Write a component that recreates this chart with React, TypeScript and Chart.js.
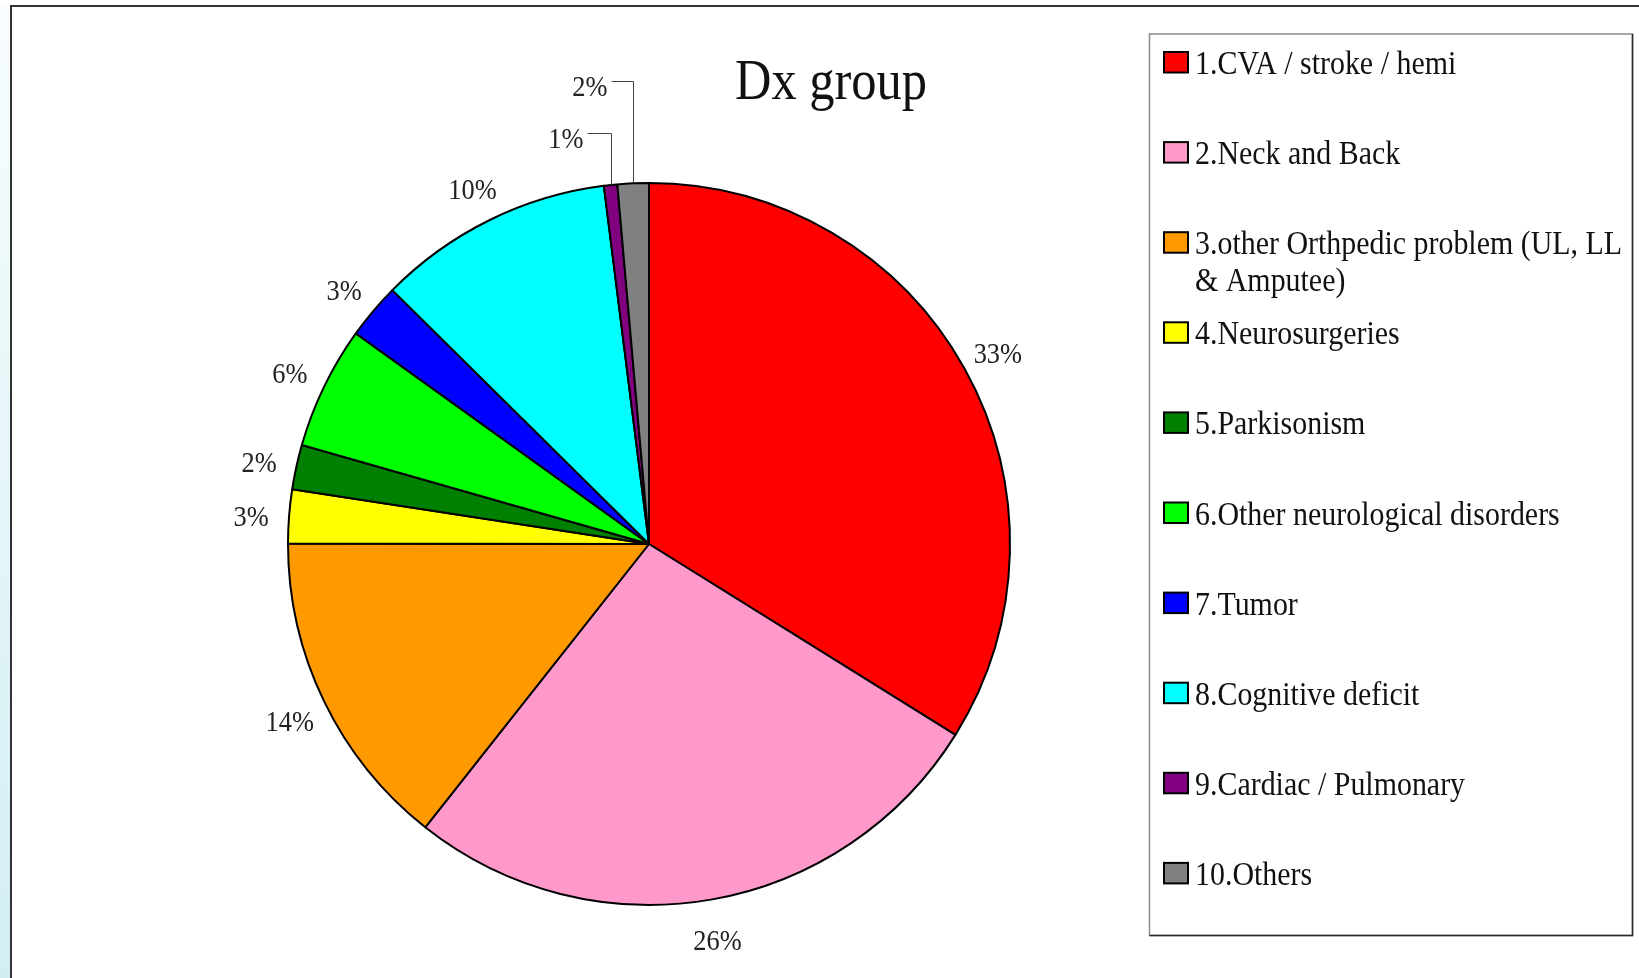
import React, { useEffect, useRef } from "react";
import { Chart, registerables } from "chart.js";

Chart.register(...registerables);

const categories = [
  "1.CVA / stroke / hemi",
  "2.Neck and Back",
  "3.other Orthpedic problem (UL, LL & Amputee)",
  "4.Neurosurgeries",
  "5.Parkisonism",
  "6.Other neurological disorders",
  "7.Tumor",
  "8.Cognitive deficit",
  "9.Cardiac / Pulmonary",
  "10.Others",
];
const shares = [33.9, 26.8, 14.4, 2.4, 2.0, 5.5, 2.5, 10.6, 0.6, 1.4];
const pctLabels = ["33%", "26%", "14%", "3%", "2%", "6%", "3%", "10%", "1%", "2%"];
const colors = [
  "#FF0000",
  "#FF99CC",
  "#FF9900",
  "#FFFF00",
  "#008000",
  "#00FF00",
  "#0000FF",
  "#00FFFF",
  "#800080",
  "#808080",
];
const chartTitle = "Dx group";

const FONT = "'Liberation Serif', 'Times New Roman', serif";
const SX = 0.88;

function drawCondensed(ctx: CanvasRenderingContext2D, text: string, x: number, y: number, align: CanvasTextAlign, sx = SX) {
  ctx.save();
  ctx.translate(x, y);
  ctx.scale(sx, 1);
  ctx.textAlign = align;
  ctx.textBaseline = "alphabetic";
  ctx.fillText(text, 0, 0);
  ctx.restore();
}

function wrap(ctx: CanvasRenderingContext2D, text: string, maxW: number, sx = SX) {
  const words = text.split(" ");
  const lines: string[] = [];
  let cur = "";
  for (const w of words) {
    const t = cur ? cur + " " + w : w;
    if (cur && ctx.measureText(t).width * sx > maxW) {
      lines.push(cur);
      cur = w;
    } else cur = t;
  }
  if (cur) lines.push(cur);
  return lines;
}

const leaders: Record<number, { lift: number; run: number }> = {
  8: { lift: 52, run: 24 },
  9: { lift: 102, run: 22 },
};

const decorPlugin = {
  id: "decor",
  beforeDraw(chart: any) {
    const ctx: CanvasRenderingContext2D = chart.ctx;
    const W = chart.width, H = chart.height;
    ctx.save();
    ctx.fillStyle = "#ffffff";
    ctx.fillRect(0, 0, W, H);
    const g = ctx.createLinearGradient(0, 0, 0, H);
    g.addColorStop(0, "#f8fdfe");
    g.addColorStop(1, "#d2eef3");
    ctx.fillStyle = g;
    ctx.fillRect(0, 6, 10, H);
    ctx.strokeStyle = "#333333";
    ctx.lineWidth = 2;
    ctx.beginPath();
    ctx.moveTo(11, H);
    ctx.lineTo(11, 6);
    ctx.lineTo(W, 6);
    ctx.stroke();
    ctx.restore();
  },
  afterDraw(chart: any) {
    const ctx: CanvasRenderingContext2D = chart.ctx;
    ctx.save();
    // title
    ctx.fillStyle = "#111";
    ctx.font = `58px ${FONT}`;
    drawCondensed(ctx, chartTitle, 831, 99, "center", 0.87);

    // percentage labels
    const meta = chart.getDatasetMeta(0);
    ctx.font = `30px ${FONT}`;
    meta.data.forEach((arc: any, i: number) => {
      const p = arc.getProps(["x", "y", "startAngle", "endAngle", "outerRadius"], true);
      const mid = (p.startAngle + p.endAngle) / 2;
      ctx.fillStyle = "#222";
      const lead = leaders[i];
      if (lead) {
        const px = Math.round(p.x + p.outerRadius * Math.cos(mid)) + 0.5;
        const py = p.y + p.outerRadius * Math.sin(mid);
        const ly = Math.round(py - lead.lift) + 0.5;
        ctx.strokeStyle = "#444";
        ctx.lineWidth = 1;
        ctx.beginPath();
        ctx.moveTo(px, py);
        ctx.lineTo(px, ly);
        ctx.lineTo(px - lead.run, ly);
        ctx.stroke();
        drawCondensed(ctx, pctLabels[i], px - lead.run - 4, ly + 14, "right");
      } else {
        const d = p.outerRadius + 38;
        drawCondensed(ctx, pctLabels[i], p.x + d * Math.cos(mid), p.y + d * Math.sin(mid) + 13, "center");
      }
    });

    // legend
    const LX = 1149.5, LY = 34, LR = 1632.5, LB = 935.5;
    ctx.strokeStyle = "#8a8a8a";
    ctx.lineWidth = 1.5;
    ctx.strokeRect(LX, LY, LR - LX, LB - LY);
    ctx.strokeStyle = "#2a2a2a";
    ctx.beginPath();
    ctx.moveTo(LR, LY);
    ctx.lineTo(LR, LB);
    ctx.lineTo(LX, LB);
    ctx.stroke();
    ctx.font = `34px ${FONT}`;
    categories.forEach((c, i) => {
      const b = 74 + i * 90.1;
      ctx.fillStyle = colors[i];
      ctx.fillRect(1164, b - 22, 24, 20.5);
      ctx.strokeStyle = "#000";
      ctx.lineWidth = 2;
      ctx.strokeRect(1164, b - 22, 24, 20.5);
      ctx.fillStyle = "#111";
      const lines = wrap(ctx, c, 440);
      lines.forEach((ln, k) => drawCondensed(ctx, ln, 1195, b + k * 36.7, "left"));
    });
    ctx.restore();
  },
};

export default function App() {
  const ref = useRef<HTMLCanvasElement | null>(null);
  useEffect(() => {
    document.body.style.margin = "0";
    document.body.style.overflow = "hidden";
    if (!ref.current) return;
    const chart = new Chart(ref.current, {
      type: "pie",
      data: {
        labels: categories,
        datasets: [
          {
            data: shares,
            backgroundColor: colors,
            borderColor: "#000000",
            borderWidth: 2,
          },
        ],
      },
      options: {
        responsive: false,
        animation: false,
        events: [],
        radius: 361,
        layout: { padding: { left: 200, right: 541, top: 130, bottom: 20 } },
        plugins: {
          legend: { display: false },
          tooltip: { enabled: false },
          title: { display: false },
        },
      } as any,
      plugins: [decorPlugin],
    });
    return () => chart.destroy();
  }, []);
  return <canvas ref={ref} width={1639} height={978} style={{ display: "block" }} />;
}
